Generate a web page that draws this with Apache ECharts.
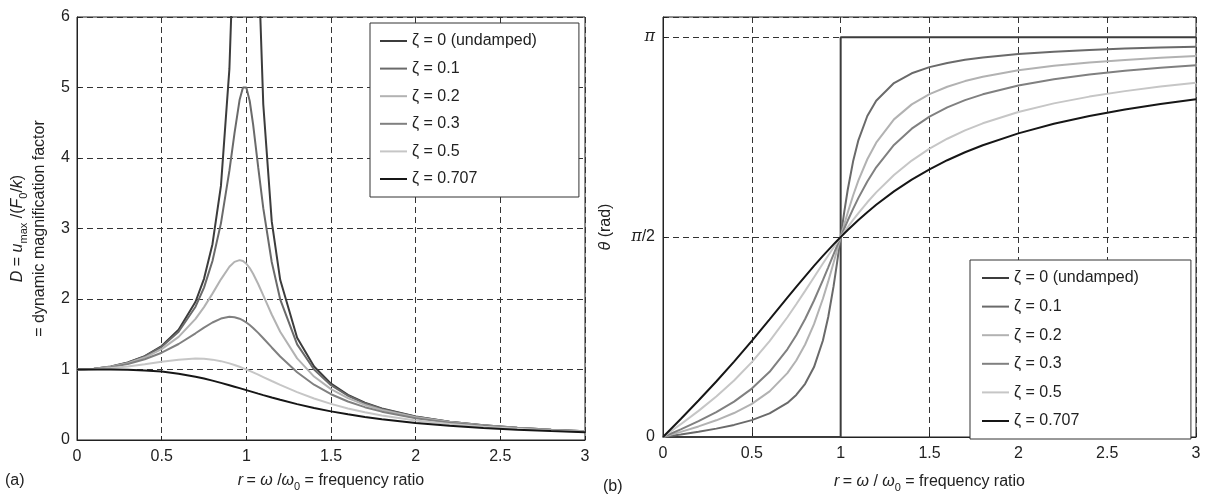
<!DOCTYPE html>
<html>
<head>
<meta charset="utf-8">
<script src="https://cdn.jsdelivr.net/npm/echarts@6/dist/echarts.min.js"></script>
<style>
  html, body { margin: 0; padding: 0; background: #fff; }
  #chart { width: 1205px; height: 498px; }
</style>
</head>
<body>
<div id="chart"></div>
<script>
// frequency ratio samples (r = w / w0)
const ratio = [0, 0.1, 0.2, 0.3, 0.4, 0.5, 0.6, 0.7, 0.75, 0.8, 0.85, 0.9, 0.93, 0.96, 0.98, 1.0,
  1.02, 1.04, 1.07, 1.1, 1.15, 1.2, 1.3, 1.4, 1.5, 1.6, 1.7, 1.8, 2.0, 2.2, 2.4, 2.6, 2.8, 3.0];

const dampingNames = ["ζ = 0 (undamped)", "ζ = 0.1", "ζ = 0.2", "ζ = 0.3", "ζ = 0.5", "ζ = 0.707"];
const lineColors = ["#3c3c3c", "#6a6a6a", "#b2b2b2", "#808080", "#c6c6c6", "#161616"];

// (a) dynamic magnification factor
const magZeta0 = [1, 1.0101, 1.0417, 1.0989, 1.1905, 1.3333, 1.5625, 1.9608, 2.2857, 2.7778, 3.6036, 5.2632, 7.4019, 12.755, 25.25, null,
  24.75, 12.255, 6.901, 4.7619, 3.1008, 2.2727, 1.4493, 1.0417, 0.8, 0.641, 0.5291, 0.4464, 0.3333, 0.2604, 0.2101, 0.1736, 0.1462, 0.125];
const magZeta01 = [1, 1.0099, 1.0408, 1.0965, 1.1851, 1.3216, 1.5357, 1.8908, 2.1621, 2.5384, 3.0728, 3.8208, 4.35, 4.8218, 5.001, 5.0,
  4.8086, 4.4756, 3.8693, 3.288, 2.5245, 1.9952, 1.3562, 1.0, 0.7779, 0.6279, 0.5207, 0.4408, 0.3304, 0.2587, 0.209, 0.1729, 0.1457, 0.1246];
const magZeta02 = [1, 1.0093, 1.0381, 1.0895, 1.1695, 1.2883, 1.463, 1.7188, 1.8851, 2.0761, 2.2786, 2.4566, 2.5267, 2.5515, 2.5381, 2.5,
  2.439, 2.3589, 2.2131, 2.0511, 1.78, 1.5357, 1.1574, 0.8998, 0.7212, 0.5931, 0.4979, 0.425, 0.3221, 0.2538, 0.2059, 0.1708, 0.1443, 0.1236];
const magZeta03 = [1, 1.0083, 1.0336, 1.078, 1.1447, 1.238, 1.3618, 1.5136, 1.5933, 1.6667, 1.7223, 1.7469, 1.7418, 1.7202, 1.6968, 1.6667,
  1.6304, 1.589, 1.5194, 1.4438, 1.3129, 1.1851, 0.9603, 0.7839, 0.6492, 0.5459, 0.4656, 0.4021, 0.3095, 0.2463, 0.2011, 0.1676, 0.142, 0.122];
const magZeta05 = [1, 1.005, 1.0198, 1.0436, 1.0748, 1.1094, 1.1399, 1.1546, 1.1517, 1.1399, 1.1184, 1.0871, 1.0641, 1.0382, 1.0196, 1.0,
  0.9796, 0.9586, 0.9261, 0.893, 0.8373, 0.7824, 0.6795, 0.5891, 0.5121, 0.4475, 0.3934, 0.348, 0.2774, 0.226, 0.1876, 0.1582, 0.1353, 0.117];
const magZeta0707 = [1, 1.0, 0.9992, 0.996, 0.9875, 0.9701, 0.9409, 0.898, 0.8716, 0.8423, 0.8106, 0.7771, 0.7563, 0.7353, 0.7212, 0.7071,
  0.693, 0.6789, 0.6578, 0.637, 0.6031, 0.5704, 0.5092, 0.4545, 0.4061, 0.3639, 0.327, 0.2949, 0.2425, 0.2023, 0.1711, 0.1463, 0.1265, 0.1104];

// (b) phase angle in rad
const phaseZeta0Ratio = [0, 1, 1, 3];
const phaseZeta0 = [0, 0, 3.1416, 3.1416];
const phaseZeta01 = [0, 0.0202, 0.0416, 0.0658, 0.095, 0.1326, 0.1853, 0.268, 0.3303, 0.4182, 0.5495, 0.7584, 0.9427, 1.1832, 1.3714, 1.5708,
  1.7663, 1.9445, 2.1658, 2.3329, 2.522, 2.6423, 2.7812, 2.8578, 2.9061, 2.9393, 2.9636, 2.9822, 3.009, 3.0275, 3.0411, 3.0516, 3.0599, 3.0667];
const phaseZeta02 = [0, 0.0404, 0.0831, 0.1311, 0.1882, 0.2606, 0.3588, 0.5021, 0.6012, 0.7266, 0.8863, 1.0859, 1.2225, 1.3694, 1.4701, 1.5708,
  1.6695, 1.7645, 1.8973, 2.0161, 2.1823, 2.3127, 2.4957, 2.6135, 2.6941, 2.7523, 2.7964, 2.8306, 2.881, 2.9163, 2.9426, 2.963, 2.9793, 2.9927];
const phaseZeta03 = [0, 0.0605, 0.1244, 0.1953, 0.2783, 0.3805, 0.5124, 0.6889, 0.7995, 0.9273, 1.0725, 1.2324, 1.3333, 1.4355, 1.5036, 1.5708,
  1.6368, 1.7008, 1.7928, 1.879, 2.008, 2.1193, 2.295, 2.4228, 2.5176, 2.5899, 2.6467, 2.6924, 2.7611, 2.8105, 2.8478, 2.8771, 2.9008, 2.9203];
const phaseZeta05 = [0, 0.1007, 0.2054, 0.3185, 0.4443, 0.588, 0.7532, 0.9411, 1.0427, 1.1479, 1.2552, 1.3628, 1.4265, 1.4893, 1.5304, 1.5708,
  1.6104, 1.6491, 1.7054, 1.7594, 1.8442, 1.9222, 2.058, 2.1719, 2.2655, 2.3435, 2.4091, 2.4647, 2.5536, 2.6214, 2.6745, 2.7176, 2.7531, 2.7828];
const phaseZeta0707 = [0, 0.1419, 0.2866, 0.4362, 0.5926, 0.7559, 0.9245, 1.095, 1.1798, 1.2626, 1.3439, 1.4226, 1.4684, 1.5131, 1.5422, 1.5708,
  1.5989, 1.6262, 1.6663, 1.705, 1.7666, 1.8245, 1.9299, 2.0225, 2.1034, 2.1746, 2.2371, 2.2925, 2.3857, 2.4607, 2.5222, 2.5735, 2.6171, 2.6544];

const FONT = "'Liberation Sans', Arial, sans-serif";
const TXT = "#222";

const zip = (xs, ys) => xs.map((x, i) => [x, ys[i]]);

const magSets = [magZeta0, magZeta01, magZeta02, magZeta03, magZeta05, magZeta0707];
const phaseSets = [zip(phaseZeta0Ratio, phaseZeta0), zip(ratio, phaseZeta01), zip(ratio, phaseZeta02),
  zip(ratio, phaseZeta03), zip(ratio, phaseZeta05), zip(ratio, phaseZeta0707)];

const lineSeries = (name, i, data, gridIdx) => ({
  name: name,
  type: "line",
  xAxisIndex: gridIdx,
  yAxisIndex: gridIdx,
  data: data,
  symbol: "none",
  connectNulls: false,
  clip: true,
  color: lineColors[i],
  lineStyle: { width: 2, color: lineColors[i] },
  z: 3 + i
});

const series = [];
dampingNames.forEach((n, i) => series.push(lineSeries(n, i, zip(ratio, magSets[i]), 0)));
dampingNames.forEach((n, i) => series.push(lineSeries(n, i, phaseSets[i], 1)));

const dashed = { show: true, lineStyle: { color: "#333", width: 1, type: [6, 4] } };
const axisLine = { show: true, onZero: false, lineStyle: { color: "#222", width: 1 } };
const tick = { show: true, inside: true, length: 4, lineStyle: { color: "#222" } };
const label = { color: TXT, fontSize: 16, fontFamily: FONT };
const nameRich = {
  i: { fontStyle: "italic", fontSize: 16, fontFamily: FONT, color: TXT, lineHeight: 22 },
  n: { fontSize: 16, fontFamily: FONT, color: TXT, lineHeight: 22 },
  sub: { fontSize: 11, fontFamily: FONT, color: TXT, lineHeight: 13, verticalAlign: "bottom" }
};

const legendBase = {
  orient: "vertical",
  data: dampingNames,
  icon: "rect",
  backgroundColor: "#fff",
  borderColor: "#333",
  borderWidth: 1,
  borderRadius: 0,
  itemWidth: 27,
  itemHeight: 2,
  selectedMode: false,
  textStyle: { color: TXT, fontSize: 16, fontFamily: FONT, lineHeight: 18 }
};

const option = {
  animation: false,
  backgroundColor: "#fff",
  grid: [
    { left: 77, top: 17, width: 508, height: 423, show: true, borderColor: "#222", borderWidth: 1, backgroundColor: "transparent" },
    { left: 663, top: 17, width: 533, height: 426, show: true, borderColor: "#222", borderWidth: 1, backgroundColor: "transparent" }
  ],
  legend: [
    Object.assign({}, legendBase, { left: 370, top: 23, padding: [9, 42, 9, 10], itemGap: 9.6 }),
    Object.assign({}, legendBase, { left: 970, top: 260, padding: [9, 52, 9, 12], itemGap: 10.6 })
  ],
  xAxis: [
    {
      type: "value", gridIndex: 0, min: 0, max: 3, interval: 0.5,
      axisLine: axisLine, axisTick: tick, splitLine: dashed,
      axisLabel: Object.assign({ margin: 9 }, label),
      name: "{i|r} {n|= }{i|ω}{n| /}{i|ω}{sub|0}{n| = frequency ratio}",
      nameLocation: "middle", nameGap: 30,
      nameTextStyle: { rich: nameRich }
    },
    {
      type: "value", gridIndex: 1, min: 0, max: 3, interval: 0.5,
      axisLine: axisLine, axisTick: tick, splitLine: dashed,
      axisLabel: Object.assign({ margin: 9 }, label),
      name: "{i|r} {n|= }{i|ω}{n| / }{i|ω}{sub|0}{n| = frequency ratio}",
      nameLocation: "middle", nameGap: 34,
      nameTextStyle: { rich: nameRich }
    }
  ],
  yAxis: [
    {
      type: "value", gridIndex: 0, min: 0, max: 6, interval: 1,
      axisLine: axisLine, axisTick: tick, splitLine: dashed,
      axisLabel: Object.assign({ margin: 7 }, label),
      name: "{i|D}{n| = }{i|u}{sub|max}{n| /(}{i|F}{sub|0}{n|/}{i|k}{n|)}\n{n|= dynamic magnification factor}",
      nameLocation: "middle", nameRotate: 90, nameGap: 26,
      nameTextStyle: { rich: nameRich, lineHeight: 23 }
    },
    {
      type: "value", gridIndex: 1, min: 0, max: 3.3, interval: Math.PI / 2,
      axisLine: axisLine, axisTick: tick, splitLine: dashed,
      axisLabel: Object.assign({
        margin: 8,
        rich: { i: { fontStyle: "italic", fontSize: 16, fontFamily: "'DejaVu Serif', serif", color: TXT } },
        formatter: (v) => {
          if (Math.abs(v) < 1e-6) return "0";
          if (Math.abs(v - Math.PI / 2) < 1e-3) return "{i|π}/2";
          if (Math.abs(v - Math.PI) < 1e-3) return "{i|π}";
          return "";
        }
      }, label),
      name: "{i|θ}{n| (rad)}",
      nameLocation: "middle", nameRotate: 90, nameGap: 46,
      nameTextStyle: { rich: nameRich }
    }
  ],
  graphic: [
    { type: "text", left: 5, top: 473, style: { text: "(a)", font: "16px " + FONT, fill: TXT } },
    { type: "text", left: 603, top: 479, style: { text: "(b)", font: "16px " + FONT, fill: TXT } }
  ],
  series: series
};

const chart = echarts.init(document.getElementById("chart"), null, { renderer: "canvas" });
chart.setOption(option);
</script>
</body>
</html>
